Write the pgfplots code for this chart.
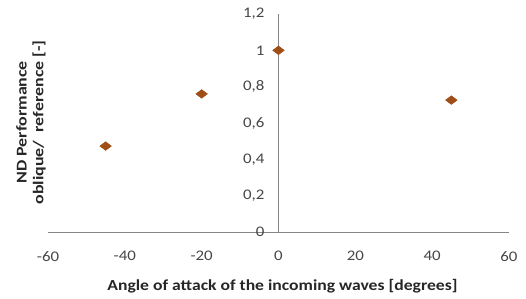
\documentclass[border=0pt]{standalone}
\usepackage{pgfplots}
\pgfplotsset{compat=1.18}
\usepackage{fontspec}
\setmainfont[FakeStretch=1.15]{Carlito}
\newfontfamily\ylfont[FakeStretch=1.2]{Carlito}
\definecolor{mk}{RGB}{158,78,22}
\definecolor{ax}{RGB}{134,134,134}
\definecolor{tl}{RGB}{70,70,70}
\begin{document}
\begin{tikzpicture}
\useasboundingbox (-36pt,-50.25pt) rectangle (358.5pt,174pt);
\begin{axis}[
  at={(0pt,0pt)}, anchor=south west,
  scale only axis, width=345.75pt, height=163.5pt,
  axis lines=middle,
  axis line style={ax, line width=0.7pt, -},
  xmin=-60, xmax=60, ymin=0, ymax=1.2,
  xtick={-60,-40,-20,0,20,40,60},
  xticklabels={-60,-40,-20,0,20,40,60},
  ytick={0,0.2,0.4,0.6,0.8,1,1.2},
  yticklabels={0,{0,2},{0,4},{0,6},{0,8},1,{1,2}},
  hide obscured x ticks=false,
  hide obscured y ticks=false,
  major tick length=0pt,
  tick label style={font=\fontsize{11}{13}\selectfont, text=tl},
  yticklabel style={anchor=east, xshift=-7pt},
  xticklabel style={anchor=north, yshift=-11pt},
  xlabel={Angle of attack of the incoming waves [degrees]},
  xlabel style={at={(axis description cs:0.5,0)}, anchor=center, yshift=-40.5pt, xshift=3pt, font=\bfseries\fontsize{11.5}{13}\selectfont, text=black!85},
  ylabel={\begin{tabular}{@{}c@{}}ND Performance\\[-0.5pt] oblique/\ \ reference [-]\end{tabular}},
  ylabel style={at={(axis description cs:0,0.5)}, anchor=center, rotate=90, xshift=0.5pt, yshift=12.4pt, font=\ylfont\bfseries\fontsize{11.2}{13}\selectfont, text=black!85},
  clip=false,
]
\addplot[only marks, mark=diamond*, mark size=4.3pt, mark options={rotate=90, fill=mk, draw=mk}] coordinates {
  (-45,0.473) (-20,0.76) (0,1.0) (45,0.726)
};
\end{axis}
\end{tikzpicture}
\end{document}
